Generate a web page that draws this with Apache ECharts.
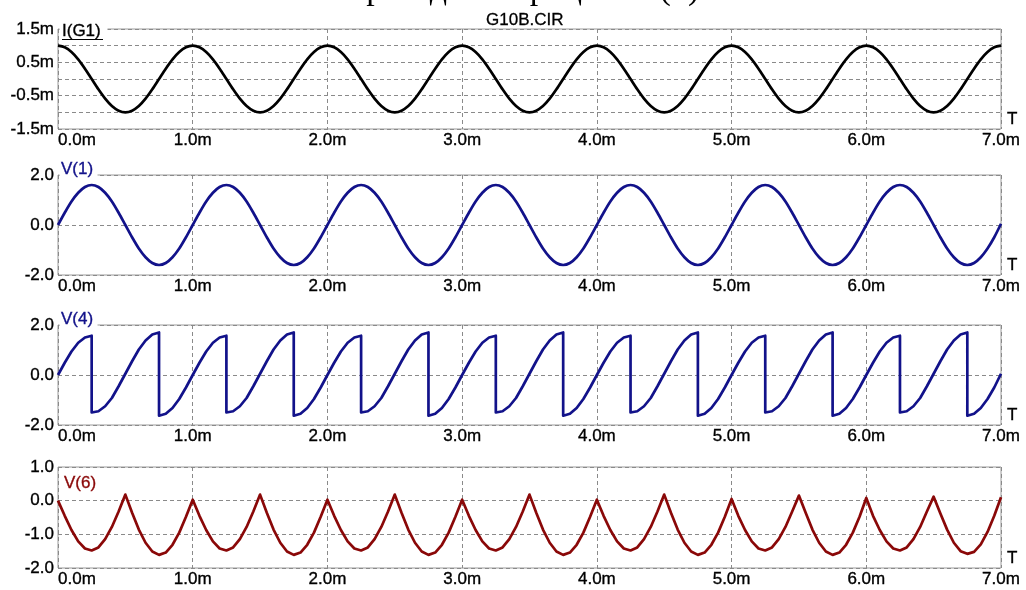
<!DOCTYPE html>
<html><head><meta charset="utf-8">
<script src="https://cdn.jsdelivr.net/npm/echarts@6/dist/echarts.min.js"></script>
<style>html,body{margin:0;padding:0;background:#fff}#c{width:1026px;height:590px}</style>
</head><body><div id="c"></div>
<script>
// ---- data (time in ms, sampled every 0.05 ms) ----
const sampleStepMs = 0.05;
const xTickLabels = ['0.0m','1.0m','2.0m','3.0m','4.0m','5.0m','6.0m','7.0m'];
const seriesNames = ['I(G1)','V(1)','V(4)','V(6)'];
const yTickLabels1 = {'1.5':'1.5m','0.5':'0.5m','-0.5':'-0.5m','-1.5':'-1.5m'};
const yTickLabels234 = {'2':'2.0','1':'1.0','0':'0.0','-1':'-1.0','-2':'-2.0'};

// I(G1) in mA
const iG1 = [
 1.0,0.95,0.81,0.59,0.31,0.0,-0.31,-0.59,-0.81,-0.95,-1.0,-0.95,-0.81,-0.59,-0.31,0.0,0.31,0.59,0.81,0.95,
 1.0,0.95,0.81,0.59,0.31,0.0,-0.31,-0.59,-0.81,-0.95,-1.0,-0.95,-0.81,-0.59,-0.31,0.0,0.31,0.59,0.81,0.95,
 1.0,0.95,0.81,0.59,0.31,0.0,-0.31,-0.59,-0.81,-0.95,-1.0,-0.95,-0.81,-0.59,-0.31,0.0,0.31,0.59,0.81,0.95,
 1.0,0.95,0.81,0.59,0.31,0.0,-0.31,-0.59,-0.81,-0.95,-1.0,-0.95,-0.81,-0.59,-0.31,0.0,0.31,0.59,0.81,0.95,
 1.0,0.95,0.81,0.59,0.31,0.0,-0.31,-0.59,-0.81,-0.95,-1.0,-0.95,-0.81,-0.59,-0.31,0.0,0.31,0.59,0.81,0.95,
 1.0,0.95,0.81,0.59,0.31,0.0,-0.31,-0.59,-0.81,-0.95,-1.0,-0.95,-0.81,-0.59,-0.31,0.0,0.31,0.59,0.81,0.95,
 1.0,0.95,0.81,0.59,0.31,0.0,-0.31,-0.59,-0.81,-0.95,-1.0,-0.95,-0.81,-0.59,-0.31,0.0,0.31,0.59,0.81,0.95,
 1.0];

const v1 = [
 0.0,0.49,0.94,1.29,1.52,1.6,1.52,1.29,0.94,0.49,0.0,-0.49,-0.94,-1.29,-1.52,-1.6,-1.52,-1.29,-0.94,-0.49,
 0.0,0.49,0.94,1.29,1.52,1.6,1.52,1.29,0.94,0.49,0.0,-0.49,-0.94,-1.29,-1.52,-1.6,-1.52,-1.29,-0.94,-0.49,
 0.0,0.49,0.94,1.29,1.52,1.6,1.52,1.29,0.94,0.49,0.0,-0.49,-0.94,-1.29,-1.52,-1.6,-1.52,-1.29,-0.94,-0.49,
 0.0,0.49,0.94,1.29,1.52,1.6,1.52,1.29,0.94,0.49,0.0,-0.49,-0.94,-1.29,-1.52,-1.6,-1.52,-1.29,-0.94,-0.49,
 0.0,0.49,0.94,1.29,1.52,1.6,1.52,1.29,0.94,0.49,0.0,-0.49,-0.94,-1.29,-1.52,-1.6,-1.52,-1.29,-0.94,-0.49,
 0.0,0.49,0.94,1.29,1.52,1.6,1.52,1.29,0.94,0.49,0.0,-0.49,-0.94,-1.29,-1.52,-1.6,-1.52,-1.29,-0.94,-0.49,
 0.0,0.49,0.94,1.29,1.52,1.6,1.52,1.29,0.94,0.49,0.0,-0.49,-0.94,-1.29,-1.52,-1.6,-1.52,-1.29,-0.94,-0.49,
 0.05];

// V(4): a pair [before, after] marks a vertical jump at that sample time
const v4 = [
 0.0,0.49,0.94,1.29,1.50,[1.57,-1.50],-1.45,-1.25,-0.92,-0.45,0.05,0.55,1.02,1.38,1.62,[1.70,-1.63],-1.55,-1.32,-0.96,-0.50,
 0.0,0.49,0.94,1.29,1.50,[1.57,-1.50],-1.45,-1.25,-0.92,-0.45,0.05,0.55,1.02,1.38,1.62,[1.70,-1.63],-1.55,-1.32,-0.96,-0.50,
 0.0,0.49,0.94,1.29,1.50,[1.57,-1.50],-1.45,-1.25,-0.92,-0.45,0.05,0.55,1.02,1.38,1.62,[1.70,-1.63],-1.55,-1.32,-0.96,-0.50,
 0.0,0.49,0.94,1.29,1.50,[1.57,-1.50],-1.45,-1.25,-0.92,-0.45,0.05,0.55,1.02,1.38,1.62,[1.70,-1.63],-1.55,-1.32,-0.96,-0.50,
 0.0,0.49,0.94,1.29,1.50,[1.57,-1.50],-1.45,-1.25,-0.92,-0.45,0.05,0.55,1.02,1.38,1.62,[1.70,-1.63],-1.55,-1.32,-0.96,-0.50,
 0.0,0.49,0.94,1.29,1.50,[1.57,-1.50],-1.45,-1.25,-0.92,-0.45,0.05,0.55,1.02,1.38,1.62,[1.70,-1.63],-1.55,-1.32,-0.96,-0.50,
 0.0,0.49,0.94,1.29,1.50,[1.57,-1.50],-1.45,-1.25,-0.92,-0.45,0.05,0.55,1.02,1.38,1.62,[1.70,-1.63],-1.55,-1.32,-0.96,-0.50,
 0.05];

const v6 = [
 0.0,-0.45,-0.87,-1.21,-1.42,-1.48,-1.39,-1.14,-0.78,-0.32,0.18,-0.36,-0.86,-1.25,-1.51,-1.61,-1.54,-1.31,-0.95,-0.48,
 0.03,-0.45,-0.87,-1.21,-1.42,-1.48,-1.39,-1.14,-0.78,-0.32,0.18,-0.36,-0.86,-1.25,-1.51,-1.61,-1.54,-1.31,-0.95,-0.48,
 0.03,-0.45,-0.87,-1.21,-1.42,-1.48,-1.39,-1.14,-0.78,-0.32,0.18,-0.36,-0.86,-1.25,-1.51,-1.61,-1.54,-1.31,-0.95,-0.48,
 0.03,-0.45,-0.87,-1.21,-1.42,-1.48,-1.39,-1.14,-0.78,-0.32,0.18,-0.36,-0.86,-1.25,-1.51,-1.61,-1.54,-1.31,-0.95,-0.48,
 0.03,-0.45,-0.87,-1.21,-1.42,-1.48,-1.39,-1.14,-0.78,-0.32,0.18,-0.36,-0.86,-1.25,-1.51,-1.61,-1.54,-1.31,-0.95,-0.48,
 0.05,-0.45,-0.87,-1.21,-1.42,-1.48,-1.39,-1.14,-0.78,-0.32,0.15,-0.36,-0.86,-1.25,-1.51,-1.61,-1.54,-1.31,-0.95,-0.48,
 0.08,-0.45,-0.87,-1.21,-1.42,-1.48,-1.39,-1.14,-0.78,-0.32,0.12,-0.38,-0.86,-1.25,-1.50,-1.58,-1.52,-1.30,-0.93,-0.45,
 0.10];

// ---- build ----
function toPoints(vals){
  const out = [];
  vals.forEach((v,i)=>{
    const t = +(i*sampleStepMs).toFixed(4);
    if (Array.isArray(v)) { out.push([t,v[0]]); out.push([t,v[1]]); }
    else out.push([t,v]);
  });
  return out;
}
const FONT = '"Liberation Sans", Arial, sans-serif';
const BORDER = '#9a9a9a';
const GRIDC = '#8a8a8a';
const NAVY = '#12128a';
const DRED = '#8a0808';
const txt = {fontFamily:FONT, fontSize:17, color:'#000', textBorderColor:'#000', textBorderWidth:0.35};

const grids = [
  {left:58, right:25, top:29, height:100},
  {left:58, right:25, top:175, height:100},
  {left:58, right:25, top:325, height:100},
  {left:58, right:25, top:467, height:101}
].map(g=>Object.assign(g,{show:true, borderColor:BORDER, borderWidth:1, backgroundColor:'#fff'}));

const xAxes = grids.map((g,i)=>({
  type:'value', gridIndex:i, min:0, max:7, interval:1, position:'bottom',
  axisLine:{show:false, onZero:false}, axisTick:{show:false},
  splitLine:{show:true, lineStyle:{color:GRIDC, type:[4,3], width:1}},
  axisLabel:Object.assign({margin:3, alignMinLabel:'left', formatter:v=>xTickLabels[Math.round(v)]}, txt),
  name:'T', nameLocation:'end', nameGap:6,
  nameTextStyle:Object.assign({align:'left', verticalAlign:'bottom', padding:[0,0,1,0]}, txt)
}));

function yAx(i,min,max,interval,labels){
  return {type:'value', gridIndex:i, min, max, interval,
    axisLine:{show:false, onZero:false}, axisTick:{show:false},
    splitLine:{show:true, lineStyle:{color:GRIDC, type:[4,3], width:1}},
    axisLabel:Object.assign({margin:4,
      formatter:v=>{const k=String(Math.round(v*10)/10); return labels[k]!==undefined?labels[k]:'';}}, txt)};
}
const yAxes = [
  yAx(0,-1.5,1.5,0.5,yTickLabels1),
  yAx(1,-2,2,2,yTickLabels234),
  yAx(2,-2,2,2,yTickLabels234),
  yAx(3,-2,1,1,yTickLabels234)
];

const colors = ['#000', NAVY, NAVY, DRED];
const dataSets = [iG1, v1, v4, v6];
const series = dataSets.map((d,i)=>({
  type:'line', name:seriesNames[i], xAxisIndex:i, yAxisIndex:i,
  data:toPoints(d), showSymbol:false, symbol:'none', smooth:(i<2?0.3:false),
  lineStyle:{color:colors[i], width:2.7, join:'round'}, z:5, animation:false
}));

function label(text,x,y,color){
  return {type:'text', z:100, style:{text, x, y, font:'17px '+FONT, fill:color,
    stroke:color, lineWidth:0.35,
    align:'left', verticalAlign:'middle', textAlign:'left', textVerticalAlign:'middle'}};
}
const graphic = [
  {type:'text', z:100, style:{text:'Переходные процессы (б)', x:513, y:-10,
    font:'34px "Liberation Serif", "Times New Roman", serif', fill:'#000',
    align:'center', verticalAlign:'middle', textAlign:'center', textVerticalAlign:'middle'}},
  {type:'rect', z:50, shape:{x:59.5, y:23, width:48, height:17}, style:{fill:'#fff'}},
  {type:'rect', z:50, shape:{x:59.5, y:171, width:38, height:8}, style:{fill:'#fff'}},
  {type:'rect', z:50, shape:{x:59.5, y:321, width:38, height:8}, style:{fill:'#fff'}},
  label(seriesNames[0],62,31,'#000'),
  {type:'line', z:100, shape:{x1:62, y1:39.5, x2:103, y2:39.5}, style:{stroke:'#000', lineWidth:1.2}},
  label(seriesNames[1],61,169,NAVY),
  label(seriesNames[2],61,319,NAVY),
  label(seriesNames[3],64,483.5,DRED)
];

const chart = echarts.init(document.getElementById('c'), null, {renderer:'canvas'});
chart.setOption({
  backgroundColor:'#fff',
  animation:false,
  title:{text:'G10B.CIR', left:486, top:12, padding:0,
    textStyle:{fontFamily:FONT, fontSize:17, fontWeight:'normal', color:'#000', textBorderColor:'#000', textBorderWidth:0.3}},
  grid:grids, xAxis:xAxes, yAxis:yAxes, series, graphic
});
</script></body></html>
